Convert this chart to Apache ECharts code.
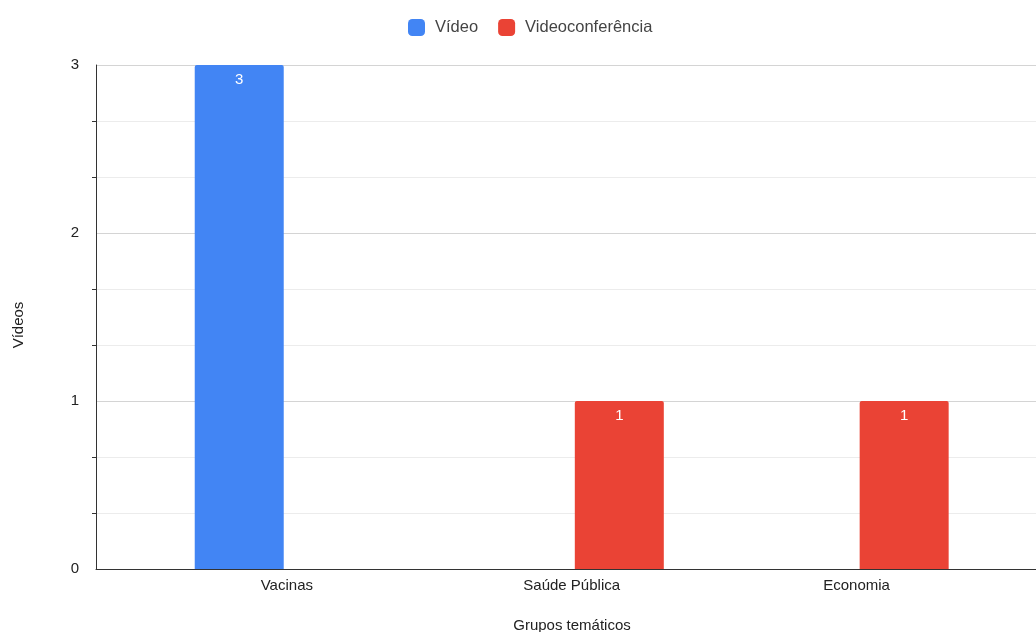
<!DOCTYPE html>
<html>
<head>
<meta charset="utf-8">
<script src="https://cdn.jsdelivr.net/npm/echarts@6/dist/echarts.min.js"></script>
<style>
  html, body { margin: 0; padding: 0; background: #fff; }
  #chart { width: 1036px; height: 632px; }
</style>
</head>
<body>
<div id="chart"></div>
<script>
// categories on the x axis (positions 0, 1, 2)
const categories = ['Vacinas', 'Saúde Pública', 'Economia'];
const videoValues = [3, null, null];
const videoconfValues = [null, 1, 1];
const yTicks = [0, 1, 2, 3];

const font = '"Liberation Sans", Arial, sans-serif';

const toPoints = (values) => values
  .map((v, i) => (v === null ? null : [i, v]))
  .filter((p) => p !== null);

const labelStyle = {
  show: true,
  position: 'insideTop',
  distance: 7,
  color: '#fff',
  fontSize: 15,
  fontFamily: font
};

const option = {
  animation: false,
  legend: {
    top: 14,
    left: 403,
    icon: 'roundRect',
    itemWidth: 17,
    itemHeight: 17,
    itemGap: 20,
    textStyle: { fontSize: 16.5, color: '#444', fontFamily: font, padding: [0, 0, 0, 5] }
  },
  grid: {
    left: 96,
    right: 0,
    top: 65,
    bottom: 63,
    outerBoundsMode: 'none',
    containLabel: false
  },
  xAxis: {
    type: 'value',
    min: -0.67,
    max: 2.63,
    name: 'Grupos temáticos',
    nameLocation: 'middle',
    nameGap: 49,
    nameTextStyle: { fontSize: 15, color: '#222', fontFamily: font, padding: [0, 0, 0, 12] },
    axisLine: { show: true, onZero: false, lineStyle: { color: '#333', width: 1 } },
    axisTick: { show: false },
    splitLine: { show: false },
    axisLabel: {
      customValues: [0, 1, 2],
      formatter: (v) => categories[Math.round(v)] || '',
      margin: 9,
      fontSize: 15,
      color: '#222',
      fontFamily: font
    }
  },
  yAxis: {
    type: 'value',
    min: yTicks[0],
    max: yTicks[yTicks.length - 1],
    interval: 1,
    name: 'Vídeos',
    nameLocation: 'middle',
    nameGap: 70,
    nameTextStyle: { fontSize: 15, color: '#222', fontFamily: font, padding: [0, 16, 0, 0] },
    axisLine: { show: true, onZero: false, lineStyle: { color: '#333', width: 1 } },
    axisTick: { show: false },
    minorTick: { show: true, splitNumber: 3, length: 4, lineStyle: { color: '#333' } },
    splitLine: { lineStyle: { color: '#d4d4d4' } },
    minorSplitLine: { show: true, lineStyle: { color: '#ececec' } },
    axisLabel: { margin: 17, fontSize: 15, color: '#222', fontFamily: font }
  },
  series: [
    {
      name: 'Vídeo',
      type: 'bar',
      barWidth: 89,
      barGap: '7%',
      itemStyle: { color: '#4285F4', borderRadius: [2, 2, 0, 0] },
      label: labelStyle,
      data: toPoints(videoValues)
    },
    {
      name: 'Videoconferência',
      type: 'bar',
      barWidth: 89,
      barGap: '7%',
      itemStyle: { color: '#EA4335', borderRadius: [2, 2, 0, 0] },
      label: labelStyle,
      data: toPoints(videoconfValues)
    }
  ]
};

const chart = echarts.init(document.getElementById('chart'));
chart.setOption(option);
</script>
</body>
</html>
